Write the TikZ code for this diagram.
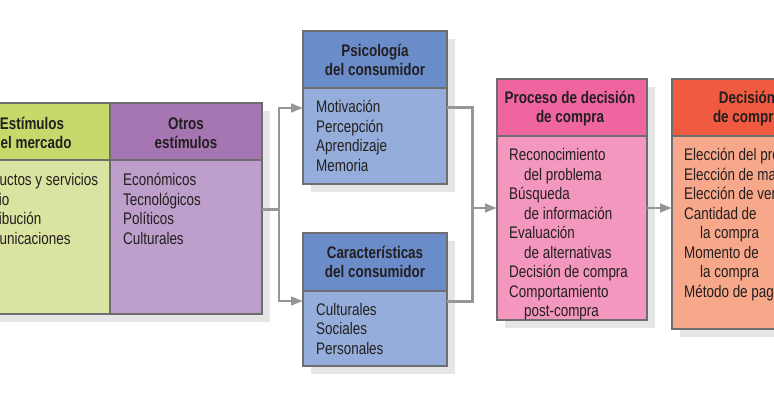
\documentclass[tikz,border=0pt]{standalone}
\usepackage{fontspec}
\setmainfont{Liberation Sans}[FakeStretch=0.8]
\usetikzlibrary{arrows.meta}
\definecolor{greenH}{RGB}{197,218,107}
\definecolor{greenB}{RGB}{218,228,160}
\definecolor{purpH}{RGB}{166,118,179}
\definecolor{purpB}{RGB}{190,158,203}
\definecolor{blueH}{RGB}{106,140,200}
\definecolor{blueB}{RGB}{149,173,218}
\definecolor{pinkH}{RGB}{238,101,159}
\definecolor{pinkB}{RGB}{244,151,190}
\definecolor{oraH}{RGB}{240,90,64}
\definecolor{oraB}{RGB}{247,168,138}
\definecolor{edgec}{RGB}{110,110,112}
\definecolor{shadowgray}{RGB}{229,229,229}
\definecolor{conn}{RGB}{150,150,153}
\definecolor{ink}{RGB}{35,31,32}
\begin{document}
\begin{tikzpicture}[x=1pt,y=-1pt,
  panel/.style={draw=edgec, line width=1.2pt, inner sep=0pt, outer sep=0pt, anchor=north west},
  headtxt/.style={font=\fontsize{16.8}{19.5}\selectfont\bfseries, text=ink, anchor=base, inner sep=0pt},
  bodytxt/.style={font=\fontsize{16.8}{19.5}\selectfont, text=ink, anchor=base west, inner sep=0pt},
  dropshade/.style={fill=shadowgray},
  link/.style={draw=conn, line width=3pt},
  arrowlink/.style={draw=conn, line width=2.8pt, -{Triangle[length=12pt,width=8.5pt]}}]
\useasboundingbox (0,0) rectangle (774,406);
\clip (0,0) rectangle (774,406);
\fill[white] (0,0) rectangle (774,406);

% shadows
\path[dropshade] (-35,111) rectangle (270,322);
\path[dropshade] (311,39) rectangle (455,192);
\path[dropshade] (311,241) rectangle (455,374);
\path[dropshade] (505,87) rectangle (655,328);
\path[dropshade] (680,87) rectangle (830,337);

% panels
\node[panel, fill=greenH, minimum width=153pt, minimum height=57pt] (gH) at (-43,103) {};
\node[panel, fill=greenB, minimum width=153pt, minimum height=154pt] (gB) at (-43,160) {};
\node[panel, fill=purpH, minimum width=152pt, minimum height=57pt] (pH) at (110,103) {};
\node[panel, fill=purpB, minimum width=152pt, minimum height=154pt] (pB) at (110,160) {};
\node[panel, fill=blueH, minimum width=144pt, minimum height=57pt] (psiH) at (303,31) {};
\node[panel, fill=blueB, minimum width=144pt, minimum height=96pt] (psiB) at (303,88) {};
\node[panel, fill=blueH, minimum width=144pt, minimum height=58pt] (carH) at (303,233) {};
\node[panel, fill=blueB, minimum width=144pt, minimum height=75pt] (carB) at (303,291) {};
\node[panel, fill=pinkH, minimum width=150pt, minimum height=57pt] (prH) at (497,79) {};
\node[panel, fill=pinkB, minimum width=150pt, minimum height=184pt] (prB) at (497,136) {};
\node[panel, fill=oraH, minimum width=150pt, minimum height=57pt] (dcH) at (672,79) {};
\node[panel, fill=oraB, minimum width=150pt, minimum height=193pt] (dcB) at (672,136) {};

% headers
\node[headtxt] (gH1) at (32,130) {Estímulos};
\node[headtxt] (gH2) at (32,149) {del mercado};
\node[headtxt] (pH1) at (186,130) {Otros};
\node[headtxt] (pH2) at (186,149) {estímulos};
\node[headtxt] (psiH1) at (375,57) {Psicología};
\node[headtxt] (psiH2) at (375,76) {del consumidor};
\node[headtxt] (carH1) at (375,258.5) {Características};
\node[headtxt] (carH2) at (375,277.5) {del consumidor};
\node[headtxt] (prH1) at (570,104) {Proceso de decisión};
\node[headtxt] (prH2) at (570,123) {de compra};
\node[headtxt] (dcH1) at (747,104) {Decisión};
\node[headtxt] (dcH2) at (747,123) {de compra};

% bodies
\foreach \t [count=\i] in {Productos y servicios, Precio, Distribución, Comunicaciones}
  \node[bodytxt] (gL\i) at (-29,{186+19.5*(\i-1)}) {\t};
\foreach \t [count=\i] in {Económicos, Tecnológicos, Políticos, Culturales}
  \node[bodytxt] (pL\i) at (123,{186+19.5*(\i-1)}) {\t};
\foreach \t [count=\i] in {Motivación, Percepción, Aprendizaje, Memoria}
  \node[bodytxt] (psiL\i) at (316,{113+19.5*(\i-1)}) {\t};
\foreach \t [count=\i] in {Culturales, Sociales, Personales}
  \node[bodytxt] (carL\i) at (316,{315+19.5*(\i-1)}) {\t};
\foreach \t [count=\i] in {Reconocimiento, \hspace*{15pt}del problema, Búsqueda, \hspace*{15pt}de información, Evaluación, \hspace*{15pt}de alternativas, Decisión de compra, Comportamiento, \hspace*{15pt}post-compra}
  \node[bodytxt] (prL\i) at (509,{160.7+19.5*(\i-1)}) {\t};
\foreach \t [count=\i] in {Elección del producto, Elección de marca, Elección de vendedor, Cantidad de, \hspace*{16pt}la compra, Momento de, \hspace*{16pt}la compra, Método de pago}
  \node[bodytxt] (dcL\i) at (684,{160.7+19.5*(\i-1)}) {\t};

% connectors
\coordinate (l0) at (279,210);
\coordinate (l1) at (279,108);
\coordinate (l2) at (279,301);
\coordinate (r1) at (472,108);
\coordinate (r2) at (472,301);
\coordinate (rm) at (472,208);
\draw[link] (l0 -| pB.east) -- (l0);
\draw[arrowlink] (l0) |- (psiB.west |- l1);
\draw[arrowlink] (l0) |- (carB.west |- l2);
\draw[link] (r1 -| psiB.east) -- (r1) -- (r2) -- (r2 -| carB.east);
\draw[arrowlink] (rm) -- (rm -| prB.west);
\draw[arrowlink] (rm -| prB.east) -- (rm -| dcB.west);
\end{tikzpicture}
\end{document}
